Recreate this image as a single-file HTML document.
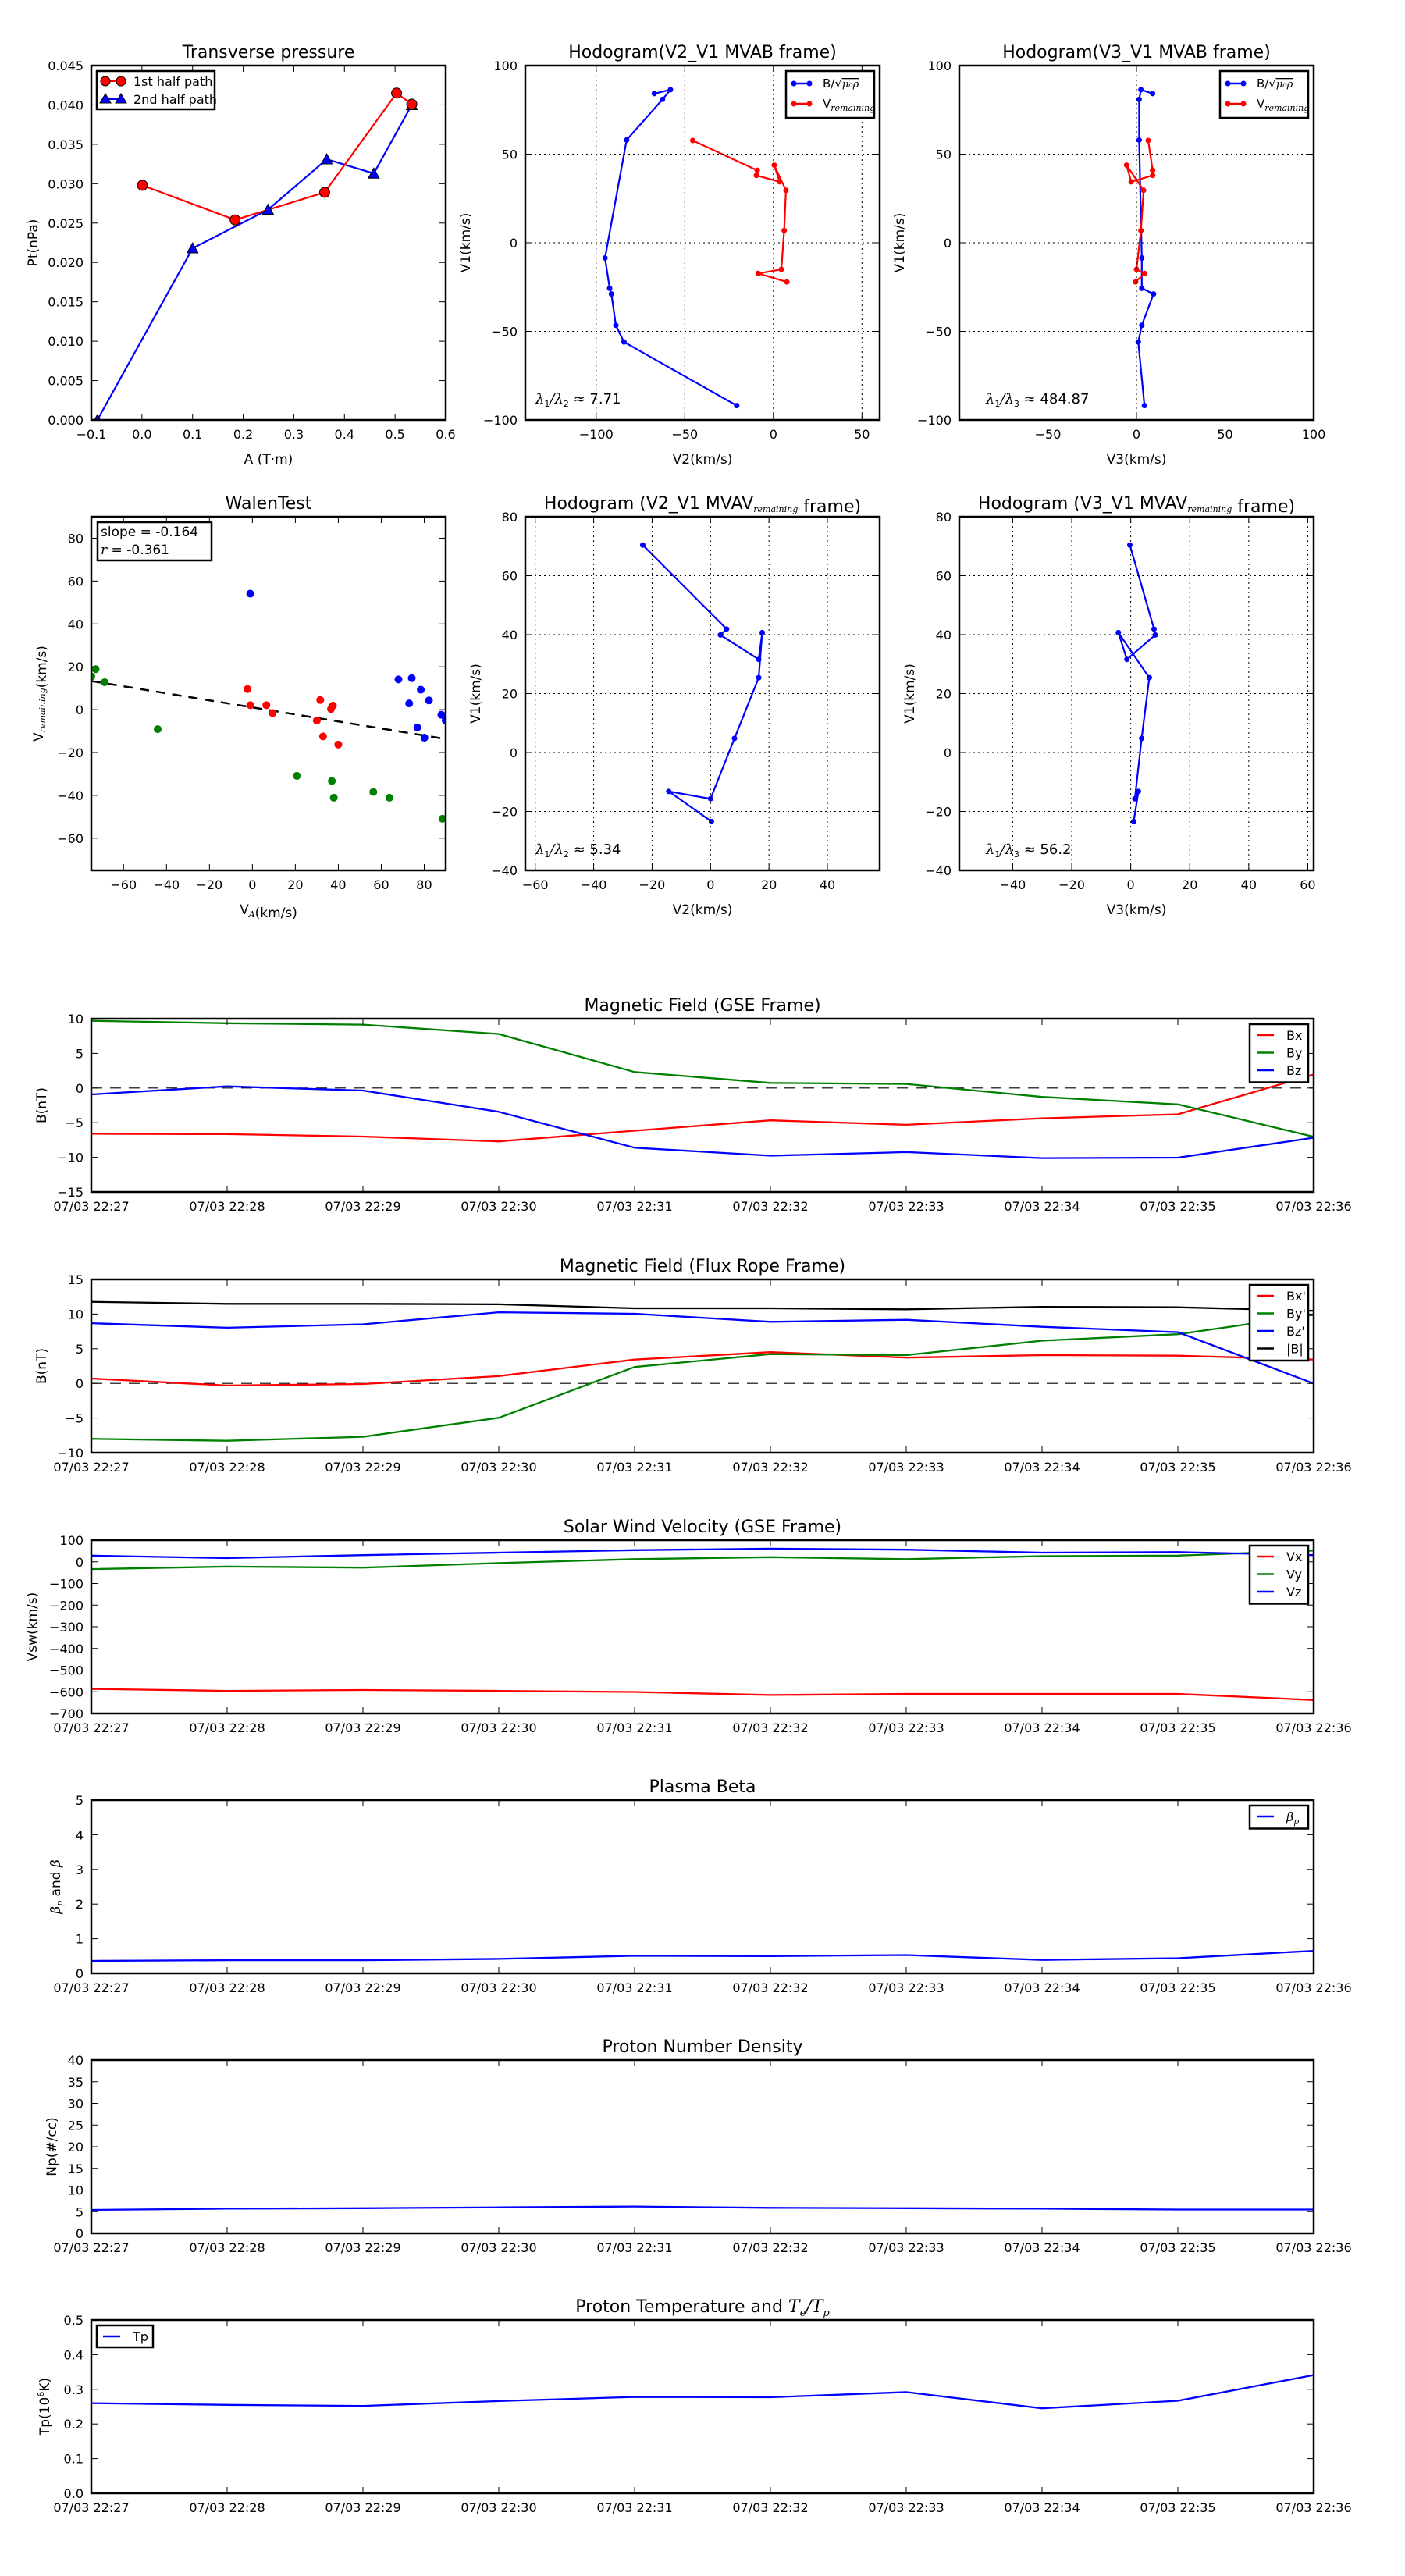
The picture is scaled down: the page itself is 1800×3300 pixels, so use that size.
<!DOCTYPE html>
<html><head><meta charset="utf-8"><title>Flux rope analysis</title>
<style>
html,body{margin:0;padding:0;background:#fff;}
svg{display:block;font-family:"DejaVu Sans","Liberation Sans",sans-serif;}
</style></head>
<body>
<svg id="fig" xmlns="http://www.w3.org/2000/svg" width="1800" height="3300" viewBox="0 0 1800 3300">
<rect x="0" y="0" width="1800" height="3300" fill="#fff"/>
</svg>
<script>
// ---------- data ----------
const tpA1 = [0.001, 0.184, 0.361, 0.503, 0.533];
const tpP1 = [0.0298, 0.0254, 0.0289, 0.0415, 0.0401];
const tpA2 = [-0.088, 0.100, 0.249, 0.365, 0.458, 0.533];
const tpP2 = [0.0, 0.0218, 0.0267, 0.0331, 0.0313, 0.0400];
const tpXTicks = [-0.1, 0, 0.1, 0.2, 0.3, 0.4, 0.5, 0.6];
const tpYTicks = [0, 0.005, 0.010, 0.015, 0.020, 0.025, 0.030, 0.035, 0.040, 0.045];

const hbV1 = [84.2, 86.4, 80.9, 58.0, -8.6, -25.7, -28.9, -46.6, -56.0, -91.9];
const hbV2 = [-67.2, -58.1, -62.6, -82.8, -95.0, -92.4, -91.4, -88.9, -84.3, -20.7];
const hbV3 = [9.1, 2.5, 1.5, 1.5, 3.0, 3.0, 9.6, 3.0, 1.0, 4.5];
const hvV1 = [57.7, 40.9, 38.0, 34.4, 43.8, 29.6, 6.9, -15.0, -17.3, -22.1];
const hvV2 = [-45.5, -9.1, -9.6, 3.5, 0.5, 7.1, 6.1, 4.5, -8.6, 7.6];
const hvV3 = [6.6, 9.1, 9.1, -3.0, -5.6, 4.0, 2.5, 0.0, 4.5, -0.5];
const mvabYTicks = [-100, -50, 0, 50, 100];
const h2XTicks = [-100, -50, 0, 50];
const h3XTicks = [-50, 0, 50, 100];

const walBlueX = [-1, 68, 74.2, 78.4, 73, 82.2, 88, 90, 76.8, 80.1];
const walBlueY = [54.1, 14.1, 14.7, 9.3, 2.9, 4.3, -2.4, -5, -8.3, -13.1];
const walRedX = [-2.3, -1, 6.5, 9.4, 31.6, 30, 37.5, 36.6, 32.9, 40];
const walRedY = [9.6, 2.1, 2.1, -1.6, 4.5, -5.1, 1.9, 0.3, -12.5, -16.3];
const walGreenX = [-73, -75, -68.8, -44.1, 20.7, 37, 37.9, 56.3, 63.8, 88.5];
const walGreenY = [18.9, 15.5, 12.8, -9.1, -30.9, -33.3, -41.1, -38.4, -41.1, -50.9];
const walSlope = -0.164;
const walIntercept = 1.05;
const walTicks = [-60, -40, -20, 0, 20, 40, 60, 80];

const rV1 = [70.4, 41.9, 39.9, 31.6, 40.7, 25.4, 4.8, -15.7, -13.2, -23.4];
const rV2 = [-23.2, 5.5, 3.4, 16.5, 17.7, 16.5, 8.2, 0.0, -14.3, 0.3];
const rV3 = [-0.3, 7.9, 8.3, -1.3, -4.2, 6.3, 3.7, 1.4, 2.6, 1.0];
const mvavYTicks = [-40, -20, 0, 20, 40, 60, 80];
const r2XTicks = [-60, -40, -20, 0, 20, 40];
const r3XTicks = [-40, -20, 0, 20, 40, 60];

const timeLabels = ["07/03 22:27","07/03 22:28","07/03 22:29","07/03 22:30","07/03 22:31","07/03 22:32","07/03 22:33","07/03 22:34","07/03 22:35","07/03 22:36"];
const gseBx = [-6.6, -6.65, -7.0, -7.7, -6.16, -4.66, -5.30, -4.37, -3.79, 1.95];
const gseBy = [9.70, 9.35, 9.14, 7.79, 2.31, 0.73, 0.59, -1.28, -2.36, -7.03];
const gseBz = [-0.92, 0.24, -0.36, -3.43, -8.61, -9.76, -9.25, -10.11, -10.04, -7.17];
const frBx = [0.70, -0.30, -0.09, 1.06, 3.43, 4.51, 3.72, 4.08, 4.00, 3.43];
const frBy = [-7.99, -8.28, -7.70, -4.97, 2.36, 4.22, 4.08, 6.16, 7.10, 9.90];
const frBz = [8.68, 8.03, 8.53, 10.26, 10.04, 8.89, 9.18, 8.17, 7.39, -0.01];
const frBt = [11.77, 11.48, 11.48, 11.41, 10.83, 10.83, 10.69, 11.05, 10.98, 10.47];
const vx = [-587, -596, -592, -596, -601, -615, -610, -610, -610, -638];
const vy = [-33.7, -22.2, -26.8, -6, 12.4, 21.6, 12.4, 26.2, 28.5, 51.6];
const vz = [28.5, 17, 30.8, 42.4, 53.9, 60.8, 56.2, 42.4, 44.7, 30.8];
const betaP = [0.36, 0.38, 0.38, 0.42, 0.51, 0.50, 0.53, 0.39, 0.44, 0.65];
const np = [5.4, 5.7, 5.8, 6.0, 6.2, 5.9, 5.8, 5.7, 5.5, 5.5];
const tp = [0.260, 0.255, 0.252, 0.266, 0.278, 0.277, 0.292, 0.245, 0.267, 0.341];
const gseTicks = [-15, -10, -5, 0, 5, 10];
const frTicks = [-10, -5, 0, 5, 10, 15];
const vTicks = [-700, -600, -500, -400, -300, -200, -100, 0, 100];
const betaTicks = [0, 1, 2, 3, 4, 5];
const npTicks = [0, 5, 10, 15, 20, 25, 30, 35, 40];
const tpTicks = [0, 0.1, 0.2, 0.3, 0.4, 0.5];

// ---------- helpers ----------
const NS = "http://www.w3.org/2000/svg";
const svg = document.getElementById('fig');
function el(tag, attrs, parent) {
  const e = document.createElementNS(NS, tag);
  for (const k in attrs) e.setAttribute(k, attrs[k]);
  (parent || svg).appendChild(e);
  return e;
}
function fmt(v, d) {
  const s = d === undefined ? String(v) : v.toFixed(d);
  return s.replace('-', '\u2212');
}
let clipId = 0;
function makeAxes(name, x0, y0, w, h, xlim, ylim) {
  const g = el('g', {});
  
  
  const sx = v => x0 + (v - xlim[0]) / (xlim[1] - xlim[0]) * w;
  const sy = v => y0 + h - (v - ylim[0]) / (ylim[1] - ylim[0]) * h;
  clipId++;
  const cp = el('clipPath', {id: 'c' + clipId}, g);
  el('rect', {x: x0, y: y0, width: w, height: h}, cp);
  const plot = el('g', {'clip-path': 'url(#c' + clipId + ')'}, g);
  
  
  return {g, plot, sx, sy, x0, y0, w, h};
}
function frame(ax) {
  const r = el('rect', {x: ax.x0, y: ax.y0, width: ax.w, height: ax.h, fill: 'none', stroke: '#000', 'stroke-width': 2.5}, ax.g);
  
  
}
function xTicks(ax, ticks, labels, grid) {
  ticks.forEach((t, i) => {
    const x = ax.sx(t);
    if (grid) {
      const gl = el('line', {x1: x, x2: x, y1: ax.y0, y2: ax.y0 + ax.h, stroke: '#000', 'stroke-width': 1, 'stroke-dasharray': '2,4'}, ax.g);
      
      
    }
    el('line', {x1: x, x2: x, y1: ax.y0 + ax.h, y2: ax.y0 + ax.h - 8, stroke: '#000', 'stroke-width': 1}, ax.g);
    el('line', {x1: x, x2: x, y1: ax.y0, y2: ax.y0 + 8, stroke: '#000', 'stroke-width': 1}, ax.g);
    const t2 = el('text', {x: x, y: ax.y0 + ax.h + 24, 'font-size': 16, 'text-anchor': 'middle'}, ax.g);
    
    
    t2.textContent = labels[i];
  });
}
function yTicks(ax, ticks, labels, grid) {
  ticks.forEach((t, i) => {
    const y = ax.sy(t);
    if (grid) {
      const gl = el('line', {x1: ax.x0, x2: ax.x0 + ax.w, y1: y, y2: y, stroke: '#000', 'stroke-width': 1, 'stroke-dasharray': '2,4'}, ax.g);
      
      
    }
    el('line', {x1: ax.x0, x2: ax.x0 + 8, y1: y, y2: y, stroke: '#000', 'stroke-width': 1}, ax.g);
    el('line', {x1: ax.x0 + ax.w, x2: ax.x0 + ax.w - 8, y1: y, y2: y, stroke: '#000', 'stroke-width': 1}, ax.g);
    const t2 = el('text', {x: ax.x0 - 10, y: y + 6, 'font-size': 16, 'text-anchor': 'end'}, ax.g);
    
    
    t2.textContent = labels[i];
  });
}
function title(ax, html) {
  const t = el('text', {x: ax.x0 + ax.w / 2, y: ax.y0 - 10, 'font-size': 22, 'text-anchor': 'middle'}, ax.g);
  
  
  t.innerHTML = html;
}
function ylabel(ax, html, x) {
  const cy = ax.y0 + ax.h / 2;
  const t = el('text', {x: x, y: cy, 'font-size': 17, 'text-anchor': 'middle', transform: 'rotate(-90 ' + x + ' ' + cy + ')', 'dominant-baseline': 'central'}, ax.g);
  
  
  t.innerHTML = html;
}
function xlabel(ax, html) {
  const t = el('text', {x: ax.x0 + ax.w / 2, y: ax.y0 + ax.h + 56, 'font-size': 17, 'text-anchor': 'middle'}, ax.g);
  
  
  t.innerHTML = html;
}
function poly(ax, xs, ys, color, name, width) {
  const pts = xs.map((x, i) => ax.sx(x).toFixed(1) + ',' + ax.sy(ys[i]).toFixed(1)).join(' ');
  const p = el('polyline', {points: pts, fill: 'none', stroke: color, 'stroke-width': width || 2.2, 'stroke-linejoin': 'round'}, ax.plot);
  
  
}
function dots(ax, xs, ys, color, r, name, stroke) {
  xs.forEach((x, i) => {
    const c = el('circle', {cx: ax.sx(x), cy: ax.sy(ys[i]), r: r, fill: color, stroke: stroke || 'none', 'stroke-width': 1}, ax.plot);
    
    
  });
}
function tris(ax, xs, ys, color, name) {
  xs.forEach((x, i) => {
    const cx = ax.sx(x), cy = ax.sy(ys[i]);
    const t = el('polygon', {points: (cx) + ',' + (cy - 7) + ' ' + (cx - 7) + ',' + (cy + 6) + ' ' + (cx + 7) + ',' + (cy + 6), fill: color, stroke: '#000', 'stroke-width': 1}, ax.plot);
    
    
  });
}
function legendBox(ax, x, y, w, h) {
  const r = el('rect', {x: x, y: y, width: w, height: h, fill: '#fff', stroke: '#000', 'stroke-width': 2.5}, ax.g);
  
  
}
function legendEntry(ax, x, y, color, html, name) {
  const l = el('line', {x1: x, x2: x + 22, y1: y, y2: y, stroke: color, 'stroke-width': 2.5}, ax.g);
  
  
  const t = el('text', {x: x + 38, y: y + 6, 'font-size': 16}, ax.g);
  
  
  t.innerHTML = html;
}
const IT = 'font-family="DejaVu Serif, Liberation Serif, serif" font-style="italic"';
const SUB = (s) => '<tspan ' + IT + ' font-size="11" dy="4">' + s + '</tspan><tspan dy="-4"></tspan>';

// ---------- Transverse pressure ----------
{
  const ax = makeAxes('transverse-pressure-chart', 117, 84, 454, 454, [-0.1, 0.6], [0, 0.045]);
  poly(ax, tpA2, tpP2, '#0000ff', 'second-half-path-line');
  poly(ax, tpA1, tpP1, '#ff0000', 'first-half-path-line');
  tris(ax, tpA2, tpP2, '#0000ff', 'second-half-marker');
  dots(ax, tpA1, tpP1, '#ff0000', 6.5, 'first-half-marker', '#000');
  frame(ax);
  xTicks(ax, tpXTicks, tpXTicks.map(v => fmt(v, 1)));
  yTicks(ax, tpYTicks, tpYTicks.map(v => fmt(v, 3)));
  title(ax, 'Transverse pressure');
  xlabel(ax, 'A (T·m)');
  ylabel(ax, 'Pt(nPa)', 43);
  legendBox(ax, 124, 91, 151, 49);
  el('line', {x1: 135, x2: 155, y1: 104, y2: 104, stroke: '#ff0000', 'stroke-width': 2}, ax.g);
  el('circle', {cx: 135, cy: 104, r: 6, fill: '#ff0000', stroke: '#000'}, ax.g);
  el('circle', {cx: 155, cy: 104, r: 6, fill: '#ff0000', stroke: '#000'}, ax.g);
  let t = el('text', {x: 171, y: 110, 'font-size': 16}, ax.g);
  
  
  t.textContent = '1st half path';
  el('line', {x1: 135, x2: 155, y1: 127, y2: 127, stroke: '#0000ff', 'stroke-width': 2}, ax.g);
  el('polygon', {points: '135,120 128,132 142,132', fill: '#0000ff', stroke: '#000'}, ax.g);
  el('polygon', {points: '155,120 148,132 162,132', fill: '#0000ff', stroke: '#000'}, ax.g);
  t = el('text', {x: 171, y: 133, 'font-size': 16}, ax.g);
  
  
  t.textContent = '2nd half path';
}

function mvabLegend(ax) {
  const x = ax.x0 + ax.w - 120, y = ax.y0 + 7;
  legendBox(ax, x, y, 113, 60);
  el('line', {x1: x + 10, x2: x + 30, y1: y + 16, y2: y + 16, stroke: '#0000ff', 'stroke-width': 2.5}, ax.g);
  el('circle', {cx: x + 10, cy: y + 16, r: 3.5, fill: '#0000ff'}, ax.g);
  el('circle', {cx: x + 30, cy: y + 16, r: 3.5, fill: '#0000ff'}, ax.g);
  let t = el('text', {x: x + 47, y: y + 21, 'font-size': 15}, ax.g);
  
  
  t.innerHTML = 'B/√<tspan ' + IT + ' font-size="13" text-decoration="overline">μ₀ρ</tspan>';
  el('line', {x1: x + 10, x2: x + 30, y1: y + 42, y2: y + 42, stroke: '#ff0000', 'stroke-width': 2.5}, ax.g);
  el('circle', {cx: x + 10, cy: y + 42, r: 3.5, fill: '#ff0000'}, ax.g);
  el('circle', {cx: x + 30, cy: y + 42, r: 3.5, fill: '#ff0000'}, ax.g);
  t = el('text', {x: x + 47, y: y + 47, 'font-size': 15}, ax.g);
  
  
  t.innerHTML = 'V' + SUB('remaining');
}
function lambdaText(ax, dx, txt) {
  const t = el('text', {x: ax.x0 + dx, y: ax.y0 + ax.h - 21, 'font-size': 18}, ax.g);
  
  
  t.innerHTML = txt;
}

// ---------- Hodogram V2_V1 MVAB ----------
{
  const ax = makeAxes('hodogram-v2-v1-mvab', 673, 84, 454, 454, [-140, 60], [-100, 100]);
  xTicks(ax, h2XTicks, h2XTicks.map(v => fmt(v)), true);
  yTicks(ax, mvabYTicks, mvabYTicks.map(v => fmt(v)), true);
  poly(ax, hbV2, hbV1, '#0000ff', 'b-hodogram-line');
  dots(ax, hbV2, hbV1, '#0000ff', 3.5, 'b-hodogram-point');
  poly(ax, hvV2, hvV1, '#ff0000', 'v-hodogram-line');
  dots(ax, hvV2, hvV1, '#ff0000', 3.5, 'v-hodogram-point');
  frame(ax);
  title(ax, 'Hodogram(V2_V1 MVAB frame)');
  xlabel(ax, 'V2(km/s)');
  ylabel(ax, 'V1(km/s)', 597);
  mvabLegend(ax);
  lambdaText(ax, 13, '<tspan ' + IT + '>λ</tspan><tspan font-size="11" dy="4">1</tspan><tspan dy="-4" ' + IT + '>/λ</tspan><tspan font-size="11" dy="4">2</tspan><tspan dy="-4"> ≈ 7.71</tspan>');
}
// ---------- Hodogram V3_V1 MVAB ----------
{
  const ax = makeAxes('hodogram-v3-v1-mvab', 1229, 84, 454, 454, [-100, 100], [-100, 100]);
  xTicks(ax, h3XTicks, h3XTicks.map(v => fmt(v)), true);
  yTicks(ax, mvabYTicks, mvabYTicks.map(v => fmt(v)), true);
  poly(ax, hbV3, hbV1, '#0000ff', 'b-hodogram-line');
  dots(ax, hbV3, hbV1, '#0000ff', 3.5, 'b-hodogram-point');
  poly(ax, hvV3, hvV1, '#ff0000', 'v-hodogram-line');
  dots(ax, hvV3, hvV1, '#ff0000', 3.5, 'v-hodogram-point');
  frame(ax);
  title(ax, 'Hodogram(V3_V1 MVAB frame)');
  xlabel(ax, 'V3(km/s)');
  ylabel(ax, 'V1(km/s)', 1153);
  mvabLegend(ax);
  lambdaText(ax, 34, '<tspan ' + IT + '>λ</tspan><tspan font-size="11" dy="4">1</tspan><tspan dy="-4" ' + IT + '>/λ</tspan><tspan font-size="11" dy="4">3</tspan><tspan dy="-4"> ≈ 484.87</tspan>');
}
// ---------- Walen test ----------
{
  const ax = makeAxes('walen-test-chart', 117, 662, 454, 453, [-75, 90], [-75, 90]);
  const lx = [-75, 90];
  const l = el('line', {x1: ax.sx(lx[0]), y1: ax.sy(walIntercept + walSlope * lx[0]), x2: ax.sx(lx[1]), y2: ax.sy(walIntercept + walSlope * lx[1]), stroke: '#000', 'stroke-width': 2.5, 'stroke-dasharray': '12,9'}, ax.plot);
  
  
  dots(ax, walBlueX, walBlueY, '#0000ff', 5, 'walen-point-blue');
  dots(ax, walRedX, walRedY, '#ff0000', 5, 'walen-point-red');
  dots(ax, walGreenX, walGreenY, '#008000', 5, 'walen-point-green');
  frame(ax);
  xTicks(ax, walTicks, walTicks.map(v => fmt(v)));
  yTicks(ax, walTicks, walTicks.map(v => fmt(v)));
  title(ax, 'WalenTest');
  xlabel(ax, 'V' + SUB('A') + '(km/s)');
  ylabel(ax, 'V' + SUB('remaining') + '(km/s)', 50);
  legendBox(ax, 125, 669, 146, 49);
  let t = el('text', {x: 129, y: 687, 'font-size': 17}, ax.g);
  
  
  t.textContent = 'slope = -0.164';
  t = el('text', {x: 129, y: 710, 'font-size': 17}, ax.g);
  
  
  t.innerHTML = '<tspan ' + IT + '>r</tspan> = -0.361';
}
// ---------- Hodogram MVAV ----------
{
  const ax = makeAxes('hodogram-v2-v1-mvav', 673, 662, 454, 453, [-63.4, 57.9], [-40, 80]);
  xTicks(ax, r2XTicks, r2XTicks.map(v => fmt(v)), true);
  yTicks(ax, mvavYTicks, mvavYTicks.map(v => fmt(v)), true);
  poly(ax, rV2, rV1, '#0000ff', 'hodogram-line');
  dots(ax, rV2, rV1, '#0000ff', 3.5, 'hodogram-point');
  frame(ax);
  title(ax, 'Hodogram (V2_V1 MVAV' + SUB('remaining') + ' frame)');
  xlabel(ax, 'V2(km/s)');
  ylabel(ax, 'V1(km/s)', 610);
  lambdaText(ax, 13, '<tspan ' + IT + '>λ</tspan><tspan font-size="11" dy="4">1</tspan><tspan dy="-4" ' + IT + '>/λ</tspan><tspan font-size="11" dy="4">2</tspan><tspan dy="-4"> ≈ 5.34</tspan>');
}
{
  const ax = makeAxes('hodogram-v3-v1-mvav', 1229, 662, 454, 453, [-58.1, 62.0], [-40, 80]);
  xTicks(ax, r3XTicks, r3XTicks.map(v => fmt(v)), true);
  yTicks(ax, mvavYTicks, mvavYTicks.map(v => fmt(v)), true);
  poly(ax, rV3, rV1, '#0000ff', 'hodogram-line');
  dots(ax, rV3, rV1, '#0000ff', 3.5, 'hodogram-point');
  frame(ax);
  title(ax, 'Hodogram (V3_V1 MVAV' + SUB('remaining') + ' frame)');
  xlabel(ax, 'V3(km/s)');
  ylabel(ax, 'V1(km/s)', 1166);
  lambdaText(ax, 34, '<tspan ' + IT + '>λ</tspan><tspan font-size="11" dy="4">1</tspan><tspan dy="-4" ' + IT + '>/λ</tspan><tspan font-size="11" dy="4">3</tspan><tspan dy="-4"> ≈ 56.2</tspan>');
}

// ---------- Time series panels ----------
const tIdx = timeLabels.map((_, i) => i);
function timePanel(name, top, ylim, ticks, tickFmt, ttl, ylab, ylx, series, zeroLine, legend) {
  const ax = makeAxes(name, 117, top, 1566, 222, [0, 9], ylim);
  if (zeroLine) {
    const z = el('line', {x1: ax.x0, x2: ax.x0 + ax.w, y1: ax.sy(0), y2: ax.sy(0), stroke: '#000', 'stroke-width': 1.2, 'stroke-dasharray': '14,10'}, ax.plot);
    
    
  }
  series.forEach(s => poly(ax, tIdx, s.v, s.c, s.n, 2.3));
  frame(ax);
  xTicks(ax, tIdx, timeLabels);
  yTicks(ax, ticks, ticks.map(tickFmt));
  title(ax, ttl);
  ylabel(ax, ylab, ylx);
  if (legend === 'right') {
    const n = series.length;
    const h = 22.5 * n + 7;
    const x = ax.x0 + ax.w - 82, y = ax.y0 + 7;
    legendBox(ax, x, y, 75, h);
    series.forEach((s, i) => legendEntry(ax, x + 9, y + 14 + 22.5 * i, s.c, s.l, 'legend-' + s.n));
  } else if (legend === 'left') {
    legendBox(ax, ax.x0 + 7, ax.y0 + 7, 72, 28);
    series.forEach((s, i) => legendEntry(ax, ax.x0 + 15, ax.y0 + 21, s.c, s.l, 'legend-' + s.n));
  }
  return ax;
}
timePanel('magnetic-field-gse-chart', 1305, [-15, 10], gseTicks, v => fmt(v), 'Magnetic Field (GSE Frame)', 'B(nT)', 54,
  [{v: gseBx, c: '#ff0000', n: 'bx-line', l: 'Bx'}, {v: gseBy, c: '#008000', n: 'by-line', l: 'By'}, {v: gseBz, c: '#0000ff', n: 'bz-line', l: 'Bz'}], true, 'right');
timePanel('magnetic-field-flux-rope-chart', 1639, [-10, 15], frTicks, v => fmt(v), 'Magnetic Field (Flux Rope Frame)', 'B(nT)', 54,
  [{v: frBx, c: '#ff0000', n: 'bx-prime-line', l: "Bx'"}, {v: frBy, c: '#008000', n: 'by-prime-line', l: "By'"}, {v: frBz, c: '#0000ff', n: 'bz-prime-line', l: "Bz'"}, {v: frBt, c: '#000000', n: 'b-total-line', l: '|B|'}], true, 'right');
timePanel('solar-wind-velocity-chart', 1973, [-700, 100], vTicks, v => fmt(v), 'Solar Wind Velocity (GSE Frame)', 'Vsw(km/s)', 42,
  [{v: vx, c: '#ff0000', n: 'vx-line', l: 'Vx'}, {v: vy, c: '#008000', n: 'vy-line', l: 'Vy'}, {v: vz, c: '#0000ff', n: 'vz-line', l: 'Vz'}], false, 'right');
timePanel('plasma-beta-chart', 2306, [0, 5], betaTicks, v => fmt(v), 'Plasma Beta', '<tspan ' + IT + '>β</tspan><tspan font-size="11" dy="4" ' + IT + '>p</tspan><tspan dy="-4"> and </tspan><tspan ' + IT + '>β</tspan>', 72,
  [{v: betaP, c: '#0000ff', n: 'beta-p-line', l: '<tspan ' + IT + '>β</tspan><tspan font-size="11" dy="4" ' + IT + '>p</tspan>'}], false, 'right');
timePanel('proton-density-chart', 2639, [0, 40], npTicks, v => fmt(v), 'Proton Number Density', 'Np(#/cc)', 67,
  [{v: np, c: '#0000ff', n: 'np-line', l: 'Np'}], false, null);
timePanel('proton-temperature-chart', 2972, [0, 0.5], tpTicks, v => fmt(v, 1), 'Proton Temperature and <tspan ' + IT + '>T</tspan><tspan font-size="13" dy="5" ' + IT + '>e</tspan><tspan dy="-5" ' + IT + '>/T</tspan><tspan font-size="13" dy="5" ' + IT + '>p</tspan>', 'Tp(10<tspan font-size="11" dy="-6">6</tspan><tspan dy="6">K)</tspan>', 58,
  [{v: tp, c: '#0000ff', n: 'tp-line', l: 'Tp'}], false, 'left');
</script>
</body></html>
